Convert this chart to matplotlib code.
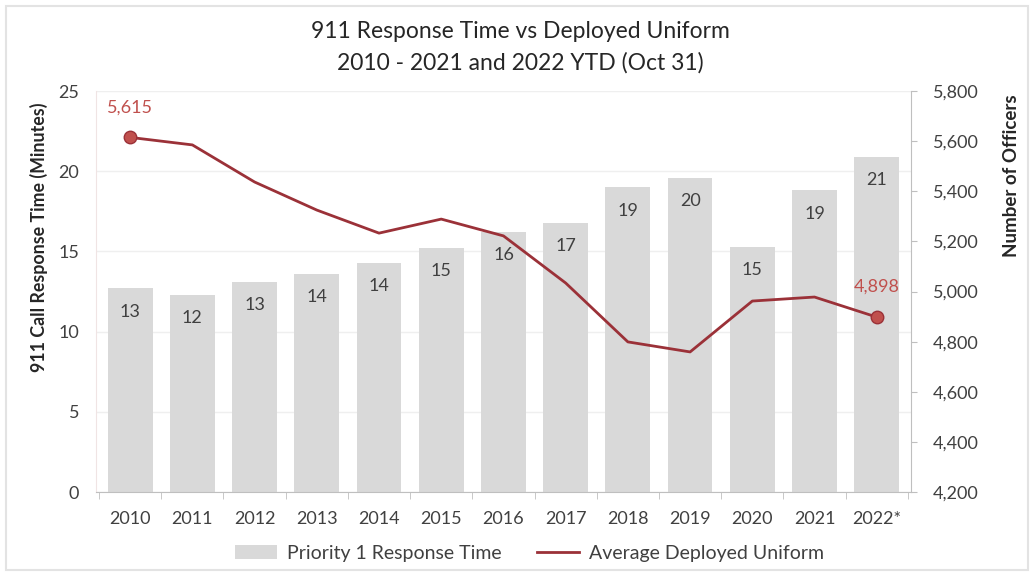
import matplotlib
matplotlib.use("Agg")
import matplotlib.pyplot as plt
from matplotlib.patches import Rectangle
import numpy as np

plt.rcParams["font.family"] = ["Lato", "DejaVu Sans"]

years = ["2010", "2011", "2012", "2013", "2014", "2015", "2016",
         "2017", "2018", "2019", "2020", "2021", "2022*"]
response_min = [12.7, 12.3, 13.1, 13.6, 14.3, 15.2, 16.2,
                16.8, 19.0, 19.6, 15.3, 18.8, 20.9]
officers = [5615, 5585, 5437, 5325, 5233, 5289, 5222,
            5034, 4799, 4759, 4962, 4978, 4898]
left_ticks = [0, 5, 10, 15, 20, 25]
right_ticks = [4200, 4400, 4600, 4800, 5000, 5200, 5400, 5600, 5800]

BAR = "#D9D9D9"
LINE = "#9B3138"
LABEL_RED = "#C0504D"
TXT = "#404040"

fig = plt.figure(figsize=(10.34, 5.75), dpi=100)
ax = fig.add_axes([0.0928, 0.1443, 0.7882, 0.6974])
x = np.arange(len(years))

ax.bar(x, response_min, width=0.72, color=BAR, zorder=2,
       label="Priority 1 Response Time")
for xi, v in zip(x, response_min):
    ax.annotate(f"{v:.0f}", (xi, v), xytext=(0, -11), textcoords="offset points",
                ha="center", va="top", fontsize=13, color=TXT, zorder=3)

ax.set_xlim(-0.55, len(years) - 0.45)
ax.set_ylim(0, 25)
ax.set_yticks(left_ticks)
ax.set_xticks(x)
ax.set_xticklabels(years)
ax.set_xticks(np.arange(len(years) + 1) - 0.5, minor=True)
ax.tick_params(axis="x", which="major", length=0, pad=14, labelsize=13, colors=TXT)
ax.tick_params(axis="x", which="minor", length=5, color="#BFBFBF")
ax.tick_params(axis="y", length=0, pad=12, labelsize=13, colors=TXT)
ax.grid(axis="y", color="#EFEFEF", lw=1, zorder=0)
for s in ["top", "right"]:
    ax.spines[s].set_visible(False)
ax.spines["left"].set_color("#F0E4E4")
ax.spines["bottom"].set_color("#BFBFBF")
ax.set_ylabel("911 Call Response Time (Minutes)", fontsize=12.8, fontweight="bold",
              color="#262626")
ax.yaxis.set_label_coords(-0.059, 0.636)

ax2 = ax.twinx()
ax2.plot(x, officers, color=LINE, lw=2, zorder=4, label="Average Deployed Uniform")
ax2.plot([x[0], x[-1]], [officers[0], officers[-1]], "o", color=LABEL_RED,
         mec=LINE, ms=9, zorder=5)
for i in (0, len(x) - 1):
    ax2.annotate(f"{officers[i]:,}", (x[i], officers[i]), xytext=(0, 16),
                 textcoords="offset points", ha="center", va="bottom",
                 fontsize=13, color=LABEL_RED)
ax2.set_ylim(4200, 5800)
ax2.set_yticks(right_ticks)
ax2.set_yticklabels([f"{t:,}" for t in right_ticks])
ax2.tick_params(axis="y", length=4, color="#BFBFBF", pad=12, labelsize=13, colors=TXT)
for s in ["top", "left", "bottom"]:
    ax2.spines[s].set_visible(False)
ax2.spines["right"].set_color("#BFBFBF")
ax2.set_ylabel("Number of Officers", fontsize=13.5, fontweight="bold",
               color="#262626")
ax2.yaxis.set_label_coords(1.113, 0.788)

fig.text(0.503, 0.945, "911 Response Time vs Deployed Uniform", ha="center",
         va="center", fontsize=16.5, color="#262626")
fig.text(0.503, 0.89, "2010 - 2021 and 2022 YTD (Oct 31)", ha="center",
         va="center", fontsize=16.5, color="#262626")

h1, l1 = ax.get_legend_handles_labels()
h2, l2 = ax2.get_legend_handles_labels()
fig.legend(h1 + h2, l1 + l2, loc="center", bbox_to_anchor=(0.512, 0.038), ncol=2,
           frameon=False, fontsize=14, handlelength=2.2, handletextpad=0.5,
           columnspacing=1.8, labelcolor=TXT)

fig.patches.append(Rectangle((0.006, 0.008), 0.988, 0.982, transform=fig.transFigure,
                             fill=False, ec="#E3E3E3", lw=1.5))

fig.savefig("out.png", dpi=100)
